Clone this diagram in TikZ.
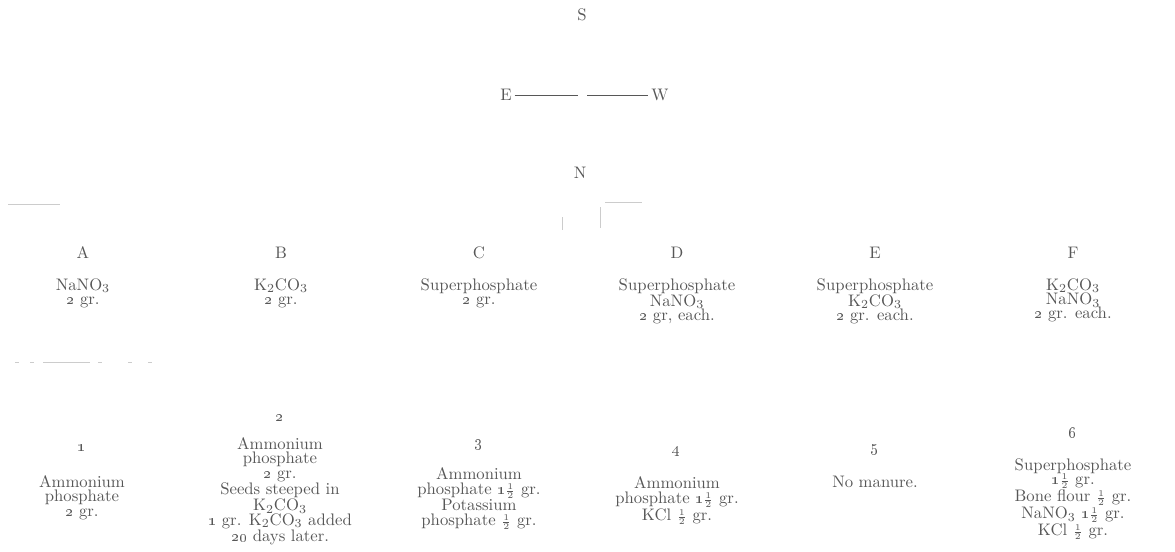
\documentclass[tikz,border=0pt]{standalone}
\usepackage{amsmath}
\usepackage{tikz}
\usetikzlibrary{positioning}

\definecolor{ink}{gray}{0.34}
\definecolor{smudge}{gray}{0.8}
\newcommand\plotfont{\fontsize{9.5}{8.2}\selectfont\lineskip=0.6pt\lineskiplimit=0pt}
\newcommand\osn[1]{\oldstylenums{#1}}
\newcommand\hlf{$\scriptstyle\frac{1}{2}$}

\begin{document}
\begin{tikzpicture}[
  x=0.02cm, y=-0.02cm,
  lbl/.style={inner sep=0pt, text=ink, font=\plotfont},
  dose/.style={lbl, align=center},
  rule/.style={draw=ink, line width=0.45pt},
  faint/.style={draw=smudge, line width=0.4pt}
]
  \useasboundingbox (0,0) rectangle (1175,551);

  % compass
  \node[lbl] (cS) at (582,15) {S};
  \node[lbl, inner sep=1.5pt] (cE) at (506,95) {E};
  \node[lbl, inner sep=1.5pt] (cW) at (660,95) {W};
  \node[lbl] (cN) at (580,173) {N};
  \coordinate (gapL) at (578,95);
  \coordinate (gapR) at (587,95);
  \draw[rule] (cE) -- (gapL);
  \draw[rule] (gapR) -- (cW);

  % upper row of plots
  \node[lbl] (pA) at (83,253) {A};
  \node[lbl] (pB) at (281,253) {B};
  \node[lbl] (pC) at (479,253) {C};
  \node[lbl] (pD) at (677,253) {D};
  \node[lbl] (pE) at (875,253) {E};
  \node[lbl] (pF) at (1073,253) {F};

  \node[dose, below=3.8mm of pA] (mA) {NaNO$_3$\\ \osn{2} gr.};
  \node[dose, below=3.8mm of pB] (mB) {K$_2$CO$_3$\\ \osn{2} gr.};
  \node[dose, below=3.8mm of pC] (mC) {Superphosphate\\ \osn{2} gr.};
  \node[dose, below=3.8mm of pD] (mD) {Superphosphate\\ NaNO$_3$\\ \osn{2} gr, each.};
  \node[dose, below=3.8mm of pE] (mE) {Superphosphate\\ K$_2$CO$_3$\\ \osn{2} gr. each.};
  \node[dose, below=3.8mm of pF] (mF) {K$_2$CO$_3$\\ NaNO$_3$\\ \osn{2} gr. each.};

  % lower row of plots
  \node[lbl] (p1) at (82,448) {\osn{1}};
  \node[lbl] (p2) at (280,418) {\osn{2}};
  \node[lbl] (p3) at (479,445) {\osn{3}};
  \node[lbl] (p4) at (677,452) {\osn{4}};
  \node[lbl] (p5) at (875,450) {\osn{5}};
  \node[lbl] (p6) at (1073,432) {\osn{6}};

  \node[dose, below=4.7mm of p1] (m1) {Ammonium\\ phosphate\\ \osn{2} gr.};
  \node[dose, below=3.1mm of p2] (m2) {Ammonium\\ phosphate\\ \osn{2} gr.\\ Seeds steeped in\\ K$_2$CO$_3$\\
    \osn{1} gr. K$_2$CO$_3$ added\\ \osn{20} days later.};
  \node[dose, below=3.4mm of p3] (m3) {Ammonium\\ phosphate \osn{1}\hlf{} gr.\\ Potassium\\ phosphate \hlf{} gr.};
  \node[dose, below=3.8mm of p4] (m4) {Ammonium\\ phosphate \osn{1}\hlf{} gr.\\ KCl \hlf{} gr.};
  \node[dose, below=4mm of p5] (m5) {No manure.};
  \node[dose, below=4.1mm of p6] (m6) {Superphosphate\\ \osn{1}\hlf{} gr.\\ Bone flour \hlf{} gr.\\
    NaNO$_3$ \osn{1}\hlf{} gr.\\ KCl \hlf{} gr.};

  % worn traces of the plot borders
  \draw[faint] (8,204) -- (60,204);
  \draw[faint] (605,202) -- (642,202);
  \draw[faint] (600,207) -- (600,228);
  \draw[faint] (562,217) -- (562,230);
  \draw[faint] (43,362) -- (90,362);
  \foreach \x in {15,30,98,128,148}
    \draw[faint] (\x,362) -- ++(4,0);
\end{tikzpicture}
\end{document}
